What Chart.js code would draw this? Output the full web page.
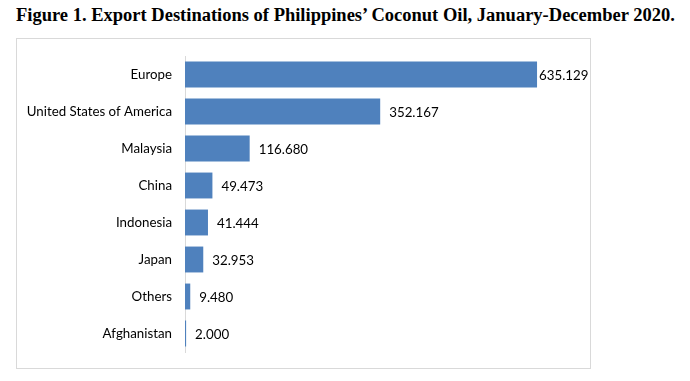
<!DOCTYPE html>
<html><head><meta charset="utf-8">
<script src="https://cdn.jsdelivr.net/npm/chart.js@4"></script>
<style>
html,body{margin:0;padding:0;background:#fff;}
#title{position:absolute;left:16px;top:5px;font-family:"Liberation Serif",serif;font-weight:bold;font-size:18.5px;color:#000;white-space:nowrap;}
#box{position:absolute;left:16px;top:38px;width:573px;height:329px;border:1px solid #d9d9d9;}
canvas{display:block;}
</style></head><body>
<div id="title">Figure 1. Export Destinations of Philippines’ Coconut Oil, January-December 2020.</div>
<div id="box"><canvas id="c" width="573" height="329"></canvas></div>
<script>
const categories = ["Europe","United States of America","Malaysia","China","Indonesia","Japan","Others","Afghanistan"];
const values = [635.129,352.167,116.680,49.473,41.444,32.953,9.480,2.000];
const valueLabels = ["635.129","352.167","116.680","49.473","41.444","32.953","9.480","2.000"];

const labelPlugin = {
  id:'labels',
  afterDatasetsDraw(chart){
    const ctx = chart.ctx;
    const meta = chart.getDatasetMeta(0);
    ctx.save();
    ctx.font = '13.3px Lato, "Open Sans", sans-serif';
    ctx.fillStyle = '#000';
    ctx.textBaseline = 'middle';
    meta.data.forEach((bar,i)=>{
      const t = valueLabels[i];
      const w = ctx.measureText(t).width;
      let x = bar.x + 9;
      x = Math.min(x, chart.width - 2 - w);
      x = Math.max(x, bar.x + 2);
      ctx.fillText(t, x, bar.y + 1);
    });
    ctx.restore();
  }
};

new Chart(document.getElementById('c'),{
  type:'bar',
  data:{labels:categories,datasets:[{data:values,backgroundColor:'#4f81bd',barPercentage:0.7,categoryPercentage:1}]},
  options:{
    indexAxis:'y',
    responsive:false,
    animation:false,
    layout:{padding:{left:0,top:17,bottom:16,right:17}},
    plugins:{legend:{display:false},tooltip:{enabled:false}},
    scales:{
      x:{display:false,min:0,max:700},
      y:{
        grid:{display:false,drawTicks:false},
        border:{display:true,color:'#d9d9d9',width:1},
        ticks:{padding:13,color:'#000',font:{family:'Lato, "Open Sans", sans-serif',size:13.3}},
        afterFit(s){s.width=168;s.paddingTop=0;s.paddingBottom=0;}
      }
    }
  },
  plugins:[labelPlugin]
});
</script>
</body></html>
